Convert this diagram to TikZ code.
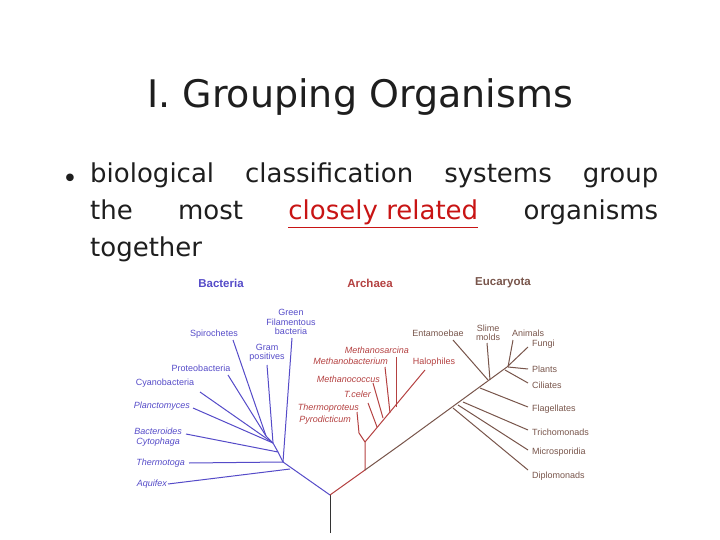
\documentclass[tikz,border=0pt]{standalone}
\usepackage{fontspec}
\setmainfont{DejaVu Sans}
\newfontfamily\lsans{Liberation Sans}
\begin{document}
\begin{tikzpicture}[x=1pt,y=-1pt,
  bl/.style={draw=bcol,line width=1pt},
  rd/.style={draw=rcol,line width=1pt},
  br/.style={draw=ecol,line width=1pt},
  lab/.style={font=\fontsize{9}{9.5}\lsans,inner sep=1pt},
  hdr/.style={font=\fontsize{11.5}{12}\lsans\bfseries,inner sep=0pt}]
\definecolor{bcol}{RGB}{85,75,200}
\definecolor{rcol}{RGB}{180,65,65}
\definecolor{ecol}{RGB}{120,85,75}
\definecolor{tcol}{RGB}{30,30,30}
\definecolor{ulred}{RGB}{200,20,20}
\useasboundingbox (0,0) rectangle (720,540);
\node[font=\fontsize{38}{44}\selectfont,text=tcol] (title) at (360,97) {I. Grouping Organisms};
\node[font=\fontsize{26}{37}\selectfont,text=tcol,anchor=north west,text width=568pt,align=justify,inner sep=0pt] (body) at (90,163)
 {biological classification systems group\linebreak the most \textcolor{ulred}{\underline{closely related}} organisms\linebreak together};
\node[font=\fontsize{26}{37}\selectfont,text=tcol,inner sep=0pt] (bul) at (70,181) {•};
% headers
\node[hdr,text=bcol] (hb) at (221,283) {Bacteria};
\node[hdr,text=rcol] (ha) at (370,283) {Archaea};
\node[hdr,text=ecol] (he) at (503,283) {Eucaryota};
% coordinates
\coordinate (root) at (330,533);
\coordinate (fork) at (330,495);
\coordinate (bt) at (283,462);
\coordinate (af) at (365,470);
\coordinate (ab) at (365,442);
% root
\draw[line width=1pt,black!80] (root) -- (fork);
% bacteria
\draw[bl] (fork) -- (bt);
\node[lab,text=bcol,anchor=east,font=\fontsize{9}{9.5}\lsans\itshape] (aq) at (168,484) {Aquifex};
\coordinate (aqj) at (290,469);
\draw[bl] (aq.east) -- (aqj);
\node[lab,text=bcol,anchor=east,font=\fontsize{9}{9.5}\lsans\itshape] (tm) at (186,463) {Thermotoga};
\draw[bl] (tm.east)+(3,0) -- (bt);
\node[lab,text=bcol,anchor=east,align=center,font=\fontsize{9}{9.5}\lsans\itshape] (bc) at (183,437) {Bacteroides\\Cytophaga};
\coordinate (bcj) at (278,452);
\draw[bl] (186,434) -- (bcj);
\node[lab,text=bcol,anchor=east,font=\fontsize{9}{9.5}\lsans\itshape] (pl) at (191,406) {Planctomyces};
\coordinate (j1) at (273,443);
\draw[bl] (193,408) -- (j1);
\node[lab,text=bcol,anchor=south] (cy) at (165,389) {Cyanobacteria};
\draw[bl] (200,392) -- (j1);
\node[lab,text=bcol,anchor=south] (pr) at (201,373) {Proteobacteria};
\coordinate (j2) at (266,436);
\draw[bl] (228,375) -- (j2);
\node[lab,text=bcol,anchor=south] (sp) at (214,340) {Spirochetes};
\draw[bl] (233,340) -- (j2);
\node[lab,text=bcol,anchor=south,align=center] (gp) at (267,363) {Gram\\positives};
\draw[bl] (267,365) -- (j1);
\node[lab,text=bcol,anchor=south,align=center] (gf) at (291,336) {Green\\Filamentous\\bacteria};
\draw[bl] (292,338) -- (bt);
\draw[bl] (j2) -- (j1) -- (bcj) -- (bt);
% archaea
\draw[rd] (fork) -- (af) -- (ab);
\coordinate (hal) at (425,370);
\draw[rd] (ab) -- (hal);
\node[lab,text=rcol,anchor=south] (hl) at (434,368) {Halophiles};
\coordinate (tp) at (359,433);
\draw[rd] (ab) -- (tp) -- (357,412);
\node[lab,text=rcol,anchor=east,font=\fontsize{9}{9.5}\lsans\itshape] (th) at (360,408) {Thermoproteus};
\node[lab,text=rcol,anchor=east,font=\fontsize{9}{9.5}\lsans\itshape] (py) at (352,420) {Pyrodicticum};
\draw[rd] (377,427) -- (368,403);
\node[lab,text=rcol,anchor=east,font=\fontsize{9}{9.5}\lsans\itshape] (tc) at (372,394) {T.celer};
\draw[rd] (383,418) -- (373,383);
\node[lab,text=rcol,anchor=east,font=\fontsize{9}{9.5}\lsans\itshape] (mc) at (381,379) {Methanococcus};
\draw[rd] (390,413) -- (385,367);
\node[lab,text=rcol,anchor=east,font=\fontsize{9}{9.5}\lsans\itshape] (mb) at (389,361) {Methanobacterium};
\draw[rd] (396,407) -- (396,357);
\node[lab,text=rcol,anchor=east,font=\fontsize{9}{9.5}\lsans\itshape] (ms) at (410,350) {Methanosarcina};
% eukarya
\coordinate (e1) at (400,445);
\coordinate (e2) at (507,367);
\draw[br] (af) -- (e1) -- (e2) -- (528,347);
\node[lab,text=ecol,anchor=west] (fu) at (531,344) {Fungi};
\draw[br] (508,367) -- (528,369);
\node[lab,text=ecol,anchor=west] (pa) at (531,369) {Plants};
\draw[br] (505,370) -- (528,383);
\node[lab,text=ecol,anchor=west] (ci) at (531,385) {Ciliates};
\draw[br] (508,367) -- (513,340);
\node[lab,text=ecol,anchor=south] (an) at (528,338) {Animals};
\draw[br] (480,388) -- (528,407);
\node[lab,text=ecol,anchor=west] (fl) at (531,409) {Flagellates};
\draw[br] (463,402) -- (528,430);
\node[lab,text=ecol,anchor=west] (tr) at (531,432) {Trichomonads};
\draw[br] (458,405) -- (528,450);
\node[lab,text=ecol,anchor=west] (mi) at (531,452) {Microsporidia};
\draw[br] (453,408) -- (528,470);
\node[lab,text=ecol,anchor=west] (di) at (531,476) {Diplomonads};
\draw[br] (488,380) -- (453,340);
\node[lab,text=ecol,anchor=south] (en) at (438,338) {Entamoebae};
\draw[br] (490,380) -- (487,343);
\node[lab,text=ecol,anchor=south,align=center] (sm) at (488,342) {Slime\\molds};
\end{tikzpicture}
\end{document}
